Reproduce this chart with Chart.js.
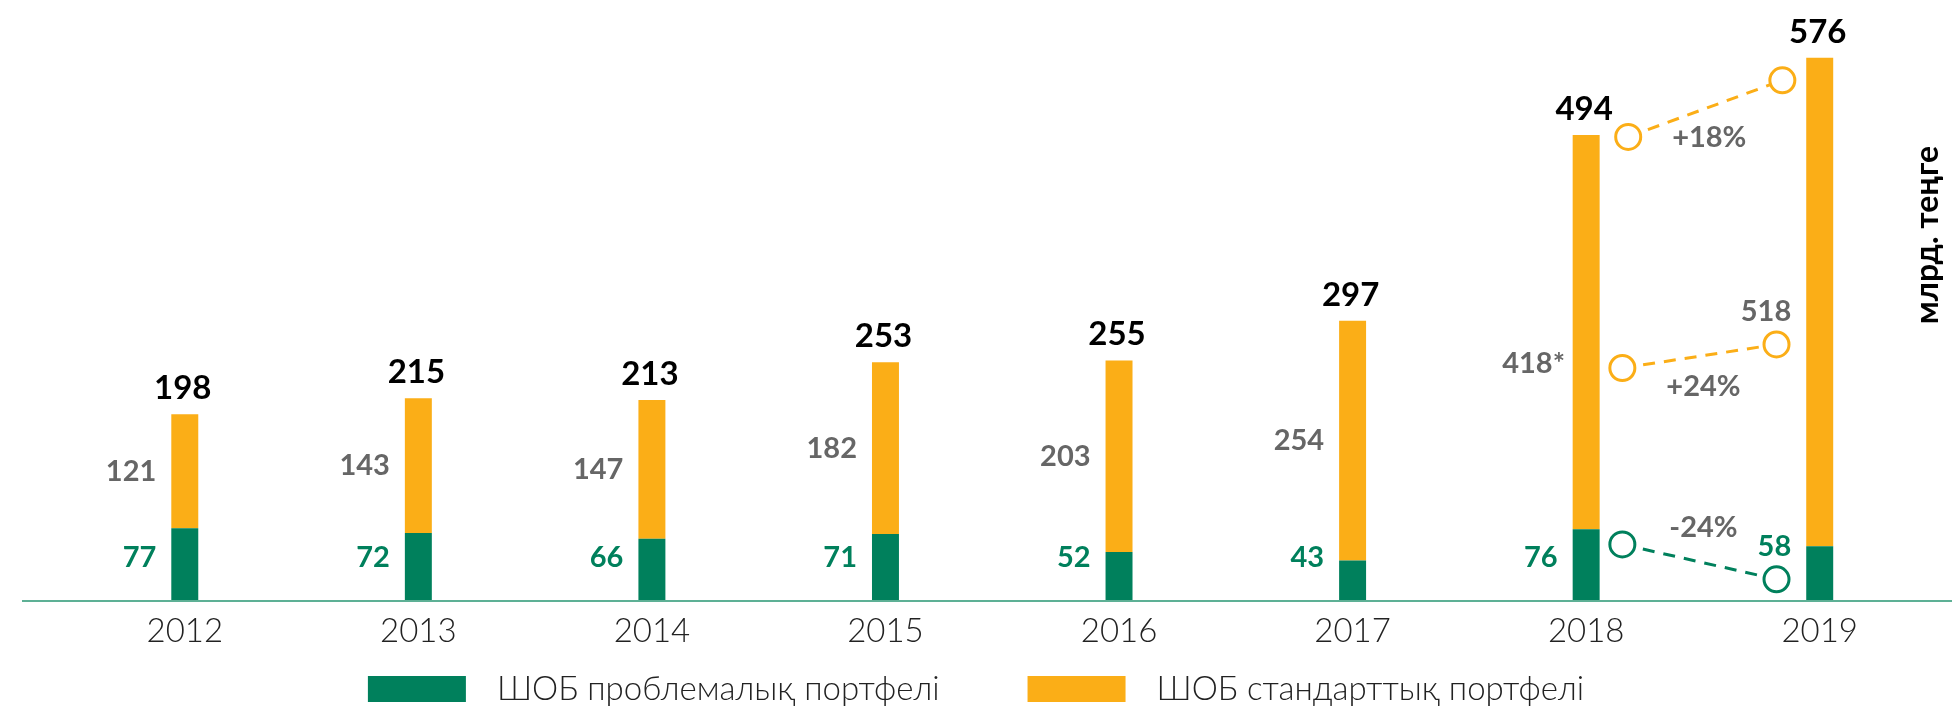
<!DOCTYPE html>
<html>
<head>
<meta charset="utf-8">
<script src="https://cdn.jsdelivr.net/npm/chart.js@4/dist/chart.umd.min.js"></script>
<style>
  html, body { margin: 0; padding: 0; background: #ffffff; }
  #wrap { width: 1952px; height: 711px; position: relative; }
</style>
</head>
<body>
<div id="wrap"><canvas id="c" width="1952" height="711"></canvas></div>
<script>
// ---- data ----
const years = ['2012', '2013', '2014', '2015', '2016', '2017', '2018', '2019'];
const problemPortfolio = [77, 72, 66, 71, 52, 43, 76, 58];
const standardPortfolio = [121, 143, 147, 182, 203, 254, 418, 518];
const standardNotes = ['', '', '', '', '', '', '*', ''];
const seriesNames = ['ШОБ проблемалық портфелі', 'ШОБ стандарттық портфелі'];
const unitTitle = 'млрд. теңге';
// 2018 -> 2019 comparison connectors (positions)
const connectorXTop = [6.18, 6.84];
const connectorX = [6.155, 6.815];
const totalConnectorY = [492, 552];
const standardConnectorY = [247, 272];
const problemConnectorY = [60, 23];
const changeLabels = ['+18%', '+24%', '-24%'];

// ---- styles ----
const GREEN = '#00805C';
const ORANGE = '#FBAE17';
const GRAY = '#666666';
const AXIS = '#5DB095';
const FONT = 'Lato, "Open Sans", "DejaVu Sans", sans-serif';

function pts(xs, ys) { return xs.map((x, i) => ({ x: x, y: ys[i] })); }

const labelPlugin = {
  id: 'labelPlugin',
  afterDatasetsDraw(chart) {
    const ctx = chart.ctx;
    const ca = chart.chartArea;
    const yS = chart.scales.y;
    const base = yS.getPixelForValue(0);
    // baseline
    ctx.save();
    ctx.strokeStyle = AXIS;
    ctx.lineWidth = 2;
    ctx.beginPath();
    ctx.moveTo(22, base);
    ctx.lineTo(chart.width, base);
    ctx.stroke();
    ctx.restore();

    const mG = chart.getDatasetMeta(0);
    const mO = chart.getDatasetMeta(1);
    const mTot = chart.getDatasetMeta(2);
    const mStd = chart.getDatasetMeta(3);
    const mPrb = chart.getDatasetMeta(4);
    const last = years.length - 1;
    const first = last - 1;

    ctx.save();
    years.forEach((yr, i) => {
      const g = mG.data[i];
      const o = mO.data[i];
      const half = g.width / 2;
      const lx = g.x - half - 15;
      // total
      ctx.font = 'bold 33px ' + FONT;
      ctx.fillStyle = '#000000';
      ctx.textAlign = 'center';
      ctx.textBaseline = 'alphabetic';
      ctx.fillText(String(problemPortfolio[i] + standardPortfolio[i]), o.x - 2, o.y - 15);
      // standard segment
      let oy = (o.y + o.base) / 2;
      if (i === last) oy = mStd.data[1].y - 33;
      if (i === first) oy = mStd.data[0].y - 4;
      ctx.font = 'bold 29px ' + FONT;
      ctx.fillStyle = GRAY;
      ctx.textAlign = 'right';
      ctx.textBaseline = 'middle';
      const nx = standardNotes[i] ? lx - 5 : lx;
      ctx.fillText(String(standardPortfolio[i]), nx, oy);
      if (standardNotes[i]) {
        ctx.textAlign = 'left';
        ctx.fillText(standardNotes[i], nx, oy);
        ctx.textAlign = 'right';
      }
      // problem segment
      let gy = base - 43;
      if (i === last) gy = mPrb.data[1].y - 33;
      ctx.fillStyle = GREEN;
      ctx.fillText(String(problemPortfolio[i]), lx, gy);
    });

    // change labels
    [mTot, mStd, mPrb].forEach((m, k) => {
      const a = m.data[0], b = m.data[1];
      const mx = (a.x + b.x) / 2 + 4;
      const my = a.y + (b.y - a.y) * ((mx - a.x) / (b.x - a.x));
      const up = b.y < a.y;
      ctx.font = 'bold 29px ' + FONT;
      ctx.fillStyle = GRAY;
      ctx.textAlign = 'center';
      ctx.textBaseline = 'middle';
      ctx.fillText(changeLabels[k], mx, up ? my + 31 : my - 35);
    });

    // unit title
    ctx.save();
    ctx.translate(ca.right - 9, ca.top + 200);
    ctx.rotate(-Math.PI / 2);
    ctx.font = 'bold 32px ' + FONT;
    ctx.fillStyle = '#000000';
    ctx.textAlign = 'center';
    ctx.textBaseline = 'middle';
    ctx.fillText(unitTitle, 0, 0);
    ctx.restore();

    // legend
    ctx.font = '300 33px ' + FONT;
    const w1 = ctx.measureText(seriesNames[0]).width;
    const w2 = ctx.measureText(seriesNames[1]).width;
    const bw = 98, bh = 26, gapT = 31, gapI = 88;
    const total = bw + gapT + w1 + gapI + bw + gapT + w2;
    let x = (chart.width - total) / 2;
    const ly = ca.bottom + 88;
    ctx.textAlign = 'left';
    ctx.textBaseline = 'middle';
    ctx.fillStyle = GREEN;
    ctx.fillRect(x, ly - bh / 2, bw, bh);
    ctx.fillStyle = '#222222';
    ctx.fillText(seriesNames[0], x + bw + gapT, ly);
    x += bw + gapT + w1 + gapI;
    ctx.fillStyle = ORANGE;
    ctx.fillRect(x, ly - bh / 2, bw, bh);
    ctx.fillStyle = '#222222';
    ctx.fillText(seriesNames[1], x + bw + gapT, ly);
    ctx.restore();
  }
};

const connectorStyle = (color) => ({
  type: 'line',
  xAxisID: 'xc',
  yAxisID: 'yc',
  borderColor: color,
  borderWidth: 3,
  borderDash: [12, 9],
  pointRadius: 12.5,
  pointBorderWidth: 3,
  pointBorderColor: color,
  pointBackgroundColor: '#ffffff',
  pointHoverRadius: 12.5,
  fill: false,
  tension: 0
});

const barStyle = { type: 'bar', xAxisID: 'x', yAxisID: 'y', grouped: false, categoryPercentage: 1, barPercentage: 0.1155, borderWidth: 0 };

new Chart(document.getElementById('c'), {
  type: 'bar',
  data: {
    labels: years,
    datasets: [
      Object.assign({}, barStyle, { label: seriesNames[0], data: problemPortfolio, backgroundColor: GREEN }),
      Object.assign({}, barStyle, { label: seriesNames[1], data: standardPortfolio, backgroundColor: ORANGE }),
      Object.assign(connectorStyle(ORANGE), { label: 'total', data: pts(connectorXTop, totalConnectorY) }),
      Object.assign(connectorStyle(ORANGE), { label: 'std', data: pts(connectorX, standardConnectorY) }),
      Object.assign(connectorStyle(GREEN), { label: 'prb', data: pts(connectorX, problemConnectorY) })
    ]
  },
  options: {
    responsive: false,
    animation: false,
    events: [],
    layout: { padding: { left: 68, right: 13, top: 35, bottom: 0 } },
    plugins: { legend: { display: false }, tooltip: { enabled: false }, title: { display: false } },
    scales: {
      x: {
        type: 'category',
        stacked: true,
        offset: true,
        grid: { display: false, drawTicks: false },
        border: { display: false },
        ticks: { color: '#222222', font: { family: FONT, size: 33, weight: '300' }, padding: 11, maxRotation: 0, autoSkip: false },
        afterFit(s) { s.height = 110; }
      },
      xc: {
        type: 'linear',
        display: false,
        offset: false,
        min: -0.5,
        max: 7.5
      },
      y: {
        type: 'linear',
        stacked: true,
        display: false,
        min: 0,
        max: 600
      },
      yc: {
        type: 'linear',
        stacked: false,
        display: false,
        min: 0,
        max: 600
      }
    }
  },
  plugins: [labelPlugin]
});
</script>
</body>
</html>
